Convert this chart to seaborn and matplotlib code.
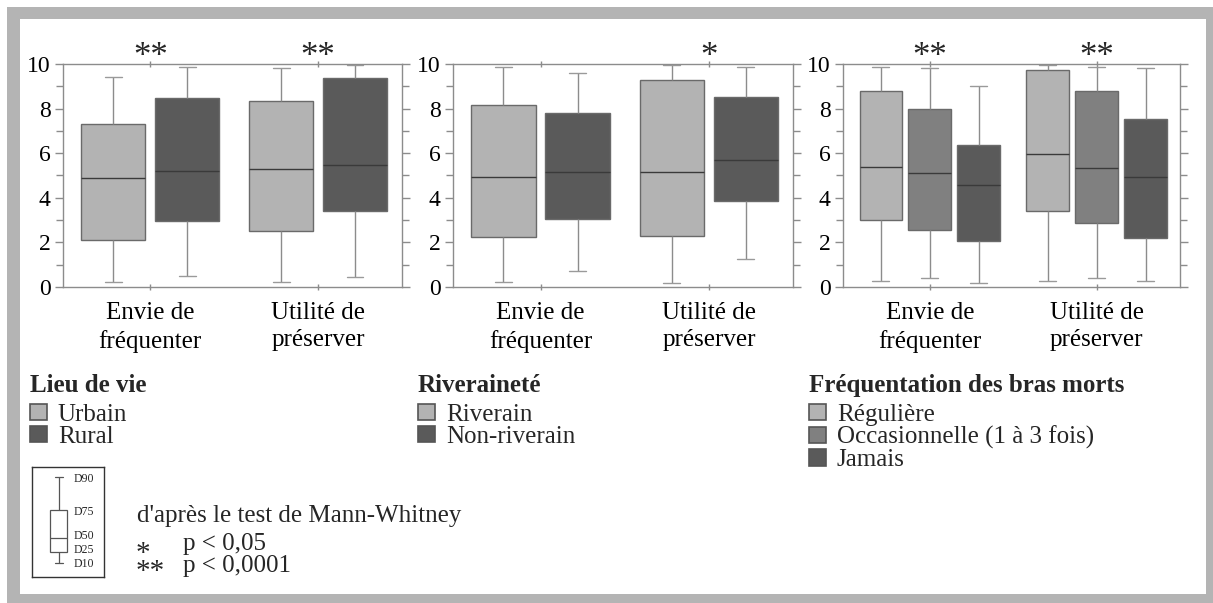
import pandas as pd
import matplotlib
matplotlib.use("Agg")
import matplotlib.pyplot as plt
from matplotlib.patches import Rectangle, Patch
from matplotlib.ticker import MultipleLocator
import seaborn as sns

# ---------------------------------------------------------------------------
# Data: deciles (D10, D25, D50, D75, D90) of the scores, per criterion
# ---------------------------------------------------------------------------
categories = ["Envie de\nfréquenter", "Utilité de\npréserver"]

# Lieu de vie
urbain = [[0.22, 2.12, 4.88, 7.33, 9.40], [0.22, 2.49, 5.28, 8.33, 9.82]]
rural = [[0.49, 2.96, 5.18, 8.46, 9.88], [0.45, 3.42, 5.46, 9.36, 9.94]]

# Riveraineté
riverain = [[0.22, 2.22, 4.93, 8.15, 9.88], [0.16, 2.27, 5.15, 9.27, 9.94]]
non_riverain = [[0.70, 3.04, 5.15, 7.79, 9.58], [1.24, 3.85, 5.70, 8.51, 9.88]]

# Fréquentation des bras morts
reguliere = [[0.28, 3.00, 5.40, 8.78, 9.88], [0.28, 3.42, 5.97, 9.72, 9.94]]
occasionnelle = [[0.40, 2.55, 5.09, 7.96, 9.84], [0.40, 2.85, 5.34, 8.79, 9.88]]
jamais = [[0.16, 2.06, 4.57, 6.39, 9.03], [0.28, 2.18, 4.93, 7.54, 9.84]]

# Mann-Whitney significance marks per criterion
signif_lieu = ["**", "**"]
signif_riv = ["", "*"]
signif_freq = ["**", "**"]

yticks = [0, 2, 4, 6, 8, 10]
key_deciles = [14, 25, 39, 67, 100]
key_labels = ["D10", "D25", "D50", "D75", "D90"]

LIGHT, MID, DARK = "#b3b3b3", "#808080", "#5a5a5a"

panels = [
    ("Lieu de vie", {"Urbain": urbain, "Rural": rural}, [LIGHT, DARK], signif_lieu),
    ("Riveraineté", {"Riverain": riverain, "Non-riverain": non_riverain},
     [LIGHT, DARK], signif_riv),
    ("Fréquentation des bras morts",
     {"Régulière": reguliere, "Occasionnelle (1 à 3 fois)": occasionnelle,
      "Jamais": jamais},
     [LIGHT, MID, DARK], signif_freq),
]


def long_table(groups):
    rows = []
    for name, per_cat in groups.items():
        for cat, vals in zip(categories, per_cat):
            for v in vals:
                rows.append((cat, name, v))
    return pd.DataFrame(rows, columns=["critere", "groupe", "note"])


sns.set_theme(style="white")
plt.rcParams["font.family"] = ["Liberation Serif", "DejaVu Serif"]

W, H = 1213, 603
fig = plt.figure(figsize=(W / 100, H / 100), dpi=100)
fig.patch.set_facecolor("white")


def fx(px):
    return px / W


def fy(py):
    return 1 - py / H


# grey surrounding frame
fig.add_artist(Rectangle((fx(7), 0), 1, fy(7), transform=fig.transFigure,
                         facecolor="#b4b4b4", edgecolor="none", zorder=-3))
fig.add_artist(Rectangle((fx(20), fy(594)), fx(1206) - fx(20), fy(19) - fy(594),
                         transform=fig.transFigure, facecolor="white",
                         edgecolor="none", zorder=-2))

axes_px = [(63, 402), (453, 793), (843, 1180)]
top_px, bot_px = 64, 287
legend_x = [30, 418, 809]

for (title, groups, colors, signif), (x0, x1), lx in zip(panels, axes_px, legend_x):
    ax = fig.add_axes([fx(x0), fy(bot_px), fx(x1) - fx(x0), fy(top_px) - fy(bot_px)])
    df = long_table(groups)
    sns.boxplot(
        data=df, x="critere", y="note", hue="groupe", hue_order=list(groups),
        palette=colors, saturation=1, width=0.88, gap=0.13, whis=(0, 100),
        linecolor="#6a6a6a", linewidth=1.0, showfliers=False, legend=False,
        medianprops=dict(color="#3a3a3a"),
        whiskerprops=dict(color="#8c8c8c"),
        capprops=dict(color="#9a9a9a"),
        capwidths=0.1, ax=ax,
    )
    ax.set_xlim(-0.52, 1.5)
    ax.set_ylim(0, 10)
    ax.set_xlabel("")
    ax.set_ylabel("")
    ax.set_yticks(yticks)
    ax.set_yticklabels([str(t) for t in yticks], fontsize=17)
    ax.yaxis.set_minor_locator(MultipleLocator(1))
    ax.set_xticks(range(len(categories)))
    ax.set_xticklabels(categories, fontsize=18, linespacing=1.3)
    ax.tick_params(axis="y", which="both", left=True, right=True,
                   direction="out", length=6, width=1, color="#8c8c8c",
                   pad=3, labelcolor="black")
    ax.tick_params(axis="y", which="minor", length=5)
    ax.tick_params(axis="x", which="major", bottom=True, top=True,
                   direction="inout", length=4, width=1, color="#8c8c8c",
                   pad=9, labelcolor="black")
    for sp in ax.spines.values():
        sp.set_color("#8c8c8c")
        sp.set_linewidth(1)
    for i, mark in enumerate(signif):
        if mark:
            ax.text(i, 9.92, mark, ha="center", va="baseline", fontsize=25,
                    clip_on=False)

    handles = [Patch(facecolor=c, edgecolor="#555555", linewidth=1.2, label=n)
               for n, c in zip(groups, colors)]
    leg = fig.legend(
        handles=handles, title=title, loc="upper left",
        bbox_to_anchor=(fx(lx), fy(374)), frameon=False, alignment="left",
        fontsize=18, title_fontproperties={"weight": "bold", "size": 18},
        handlelength=0.66, handleheight=0.62, handletextpad=0.45,
        labelspacing=0.0, borderpad=0, borderaxespad=0,
    )
    leg._legend_box.sep = 5

# key explaining the box: deciles
kax = fig.add_axes([fx(32), fy(577), fx(104) - fx(32), fy(467) - fy(577)])
sns.boxplot(y=key_deciles, whis=(0, 100), width=0.8, color="white",
            linecolor="#555555", linewidth=0.9, showfliers=False,
            capwidths=0.35, ax=kax)
kax.set_xlim(-1.27, 2.12)
kax.set_ylim(0, 110)
kax.set_xticks([])
kax.set_yticks([])
kax.set_xlabel("")
kax.set_ylabel("")
for sp in kax.spines.values():
    sp.set_visible(True)
    sp.set_color("#333333")
    sp.set_linewidth(1)
for lab, yv in zip(key_labels, [13, 27, 41, 65, 98]):
    kax.text(0.583, yv / 110, lab, transform=kax.transAxes, fontsize=8.5,
             va="center", ha="left")

# significance thresholds of the Mann-Whitney test
fig.text(fx(137), fy(522), "d'après le test de Mann-Whitney", fontsize=18,
         va="baseline")
fig.text(fx(136), fy(579), "*\n**", fontsize=21, va="baseline", ha="left",
         multialignment="left", linespacing=0.62)
fig.text(fx(183), fy(572), "p < 0,05\np < 0,0001", fontsize=18, va="baseline",
         ha="left", multialignment="left", linespacing=0.98)

fig.savefig("out.png", dpi=100, facecolor="white")
